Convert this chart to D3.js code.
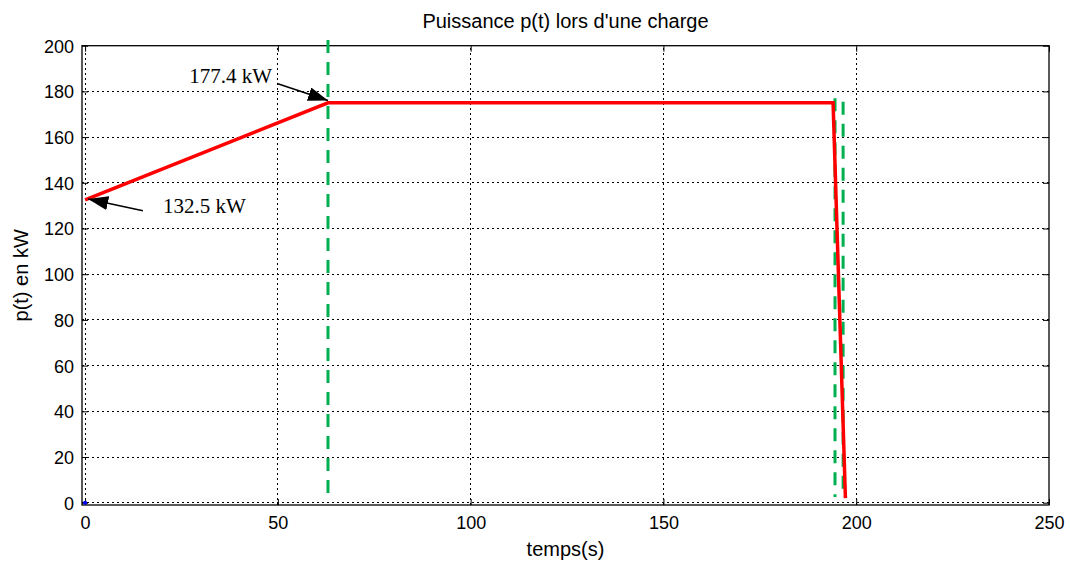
<!DOCTYPE html>
<html>
<head>
<meta charset="utf-8">
<script src="https://cdn.jsdelivr.net/npm/d3@7"></script>
<style>
  body { margin: 0; background: white; font-family: Arial, "Liberation Sans", sans-serif; }
  svg { display: block; }
</style>
</head>
<body>
<svg id="chart"></svg>
<script>
// data
let timeValues = [0, 63, 194, 197.2]
let powerValues = [132.5, 175, 175, 2]
let markerTimes = [63, 194.5, 196.6]
let markerTop = [202.5, 177, 175.5]
let markerBottom = [2.5, 2.5, 2.5]
let xTicks = [0, 50, 100, 150, 200, 250]
let yTicks = [0, 20, 40, 60, 80, 100, 120, 140, 160, 180, 200]
let notes = [
  { text: "177.4 kW", tx: 272, ty: 83, anchor: "end", from: [49.8, 183.5], to: [63, 176.0] },
  { text: "132.5 kW", tx: 163, ty: 213, anchor: "start", from: [15, 127.8], to: [0.8, 132.9] }
]

let width = 1070, height = 573
let margin = { top: 45.7, right: 21, bottom: 68, left: 82 }
let svg = d3.select("#chart").attr("width", width).attr("height", height)

let x = d3.scaleLinear().domain([-0.8, 250]).range([margin.left, width - margin.right])
let y = d3.scaleLinear().domain([-1, 200]).range([height - margin.bottom, margin.top])

svg.append("defs").append("marker")
  .attr("id", "arrow").attr("viewBox", "0 0 20 14")
  .attr("refX", 20).attr("refY", 7)
  .attr("markerWidth", 20).attr("markerHeight", 14)
  .attr("markerUnits", "userSpaceOnUse").attr("orient", "auto")
  .append("path").attr("d", "M0,0 L20,7 L0,14 Z").attr("fill", "black")

let x0 = margin.left, x1 = width - margin.right
let y0 = height - margin.bottom, y1 = margin.top

// grid
let grid = svg.append("g").attr("class", "grid")
grid.selectAll(".gx").data(xTicks.filter(d => d < 250)).join("line").attr("class", "gx")
  .attr("x1", d => x(d)).attr("x2", d => x(d)).attr("y1", y0).attr("y2", y1)
grid.selectAll(".gy").data(yTicks.filter(d => d < 200)).join("line").attr("class", "gy")
  .attr("x1", x0).attr("x2", x1).attr("y1", d => y(d)).attr("y2", d => y(d))
grid.selectAll("line")
  .attr("stroke", "black").attr("stroke-width", 1).attr("stroke-dasharray", "2,3")
  .attr("shape-rendering", "crispEdges")

// box
svg.append("rect").attr("x", x0).attr("y", y1).attr("width", x1 - x0).attr("height", y0 - y1)
  .attr("fill", "none").attr("stroke", "black").attr("stroke-width", 1.3)

// axes with inward ticks
let axisB = svg.append("g").attr("transform", `translate(0,${y0})`)
  .call(d3.axisBottom(x).tickValues(xTicks).tickSizeInner(-6).tickSizeOuter(0).tickPadding(11))
let axisT = svg.append("g").attr("transform", `translate(0,${y1})`)
  .call(d3.axisTop(x).tickValues(xTicks).tickSizeInner(-6).tickSizeOuter(0).tickFormat(""))
let axisL = svg.append("g").attr("transform", `translate(${x0},0)`)
  .call(d3.axisLeft(y).tickValues(yTicks).tickSizeInner(-6).tickSizeOuter(0).tickPadding(8))
let axisR = svg.append("g").attr("transform", `translate(${x1},0)`)
  .call(d3.axisRight(y).tickValues(yTicks).tickSizeInner(-6).tickSizeOuter(0).tickFormat(""))
;[axisB, axisT, axisL, axisR].forEach(a => {
  a.select(".domain").remove()
  a.selectAll("line").attr("stroke", "black")
  a.selectAll("text").attr("font-size", 18).attr("font-family", "Arial, 'Liberation Sans', sans-serif").attr("fill", "black")
})
axisL.selectAll("text").attr("dy", "0.36em")

// green dashed markers
svg.append("g").selectAll("line").data(markerTimes).join("line")
  .attr("x1", d => x(d)).attr("x2", d => x(d))
  .attr("y1", (d, i) => y(markerTop[i])).attr("y2", (d, i) => y(markerBottom[i]))
  .attr("stroke", "#00b050").attr("stroke-width", 3).attr("stroke-dasharray", "13,9")

// power curve
let line = d3.line().x(d => x(d[0])).y(d => y(d[1]))
svg.append("path").datum(timeValues.map((t, i) => [t, powerValues[i]]))
  .attr("d", line).attr("fill", "none").attr("stroke", "red").attr("stroke-width", 3.5)
  .attr("stroke-linejoin", "miter")

// blue point at origin
svg.append("circle").attr("cx", x(0)).attr("cy", y(0)).attr("r", 2).attr("fill", "blue")

// annotations
notes.forEach(n => {
  svg.append("line")
    .attr("x1", x(n.from[0])).attr("y1", y(n.from[1]))
    .attr("x2", x(n.to[0])).attr("y2", y(n.to[1]))
    .attr("stroke", "black").attr("stroke-width", 1.6).attr("marker-end", "url(#arrow)")
  svg.append("text").attr("x", n.tx).attr("y", n.ty).attr("text-anchor", n.anchor)
    .attr("font-family", "'Liberation Serif', 'Times New Roman', serif").attr("font-size", 21)
    .text(n.text)
})

// titles
svg.append("text").attr("x", (x0 + x1) / 2).attr("y", 28).attr("text-anchor", "middle")
  .attr("font-size", 20).text("Puissance p(t) lors d'une charge")
svg.append("text").attr("x", (x0 + x1) / 2).attr("y", 556).attr("text-anchor", "middle")
  .attr("font-size", 20).text("temps(s)")
svg.append("text").attr("transform", `translate(28,${(y0 + y1) / 2}) rotate(-90)`)
  .attr("text-anchor", "middle").attr("font-size", 20).text("p(t) en kW")
</script>
</body>
</html>
